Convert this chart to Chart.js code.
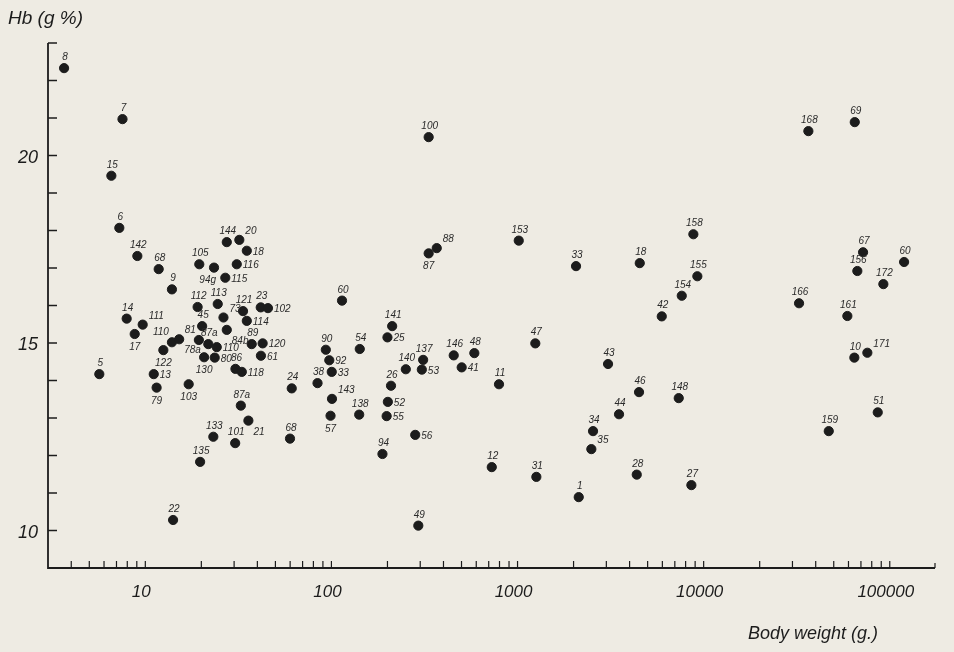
<!DOCTYPE html>
<html lang="en">
<head>
    <meta charset="UTF-8">
    <title>Hb vs Body weight</title>
    <script src="https://cdn.jsdelivr.net/npm/chart.js"></script>
    <style>
        body { margin: 0; background: #eeebe3; }
        canvas { display: block; }
    </style>
</head>
<body>
    <canvas id="hbChart" width="954" height="652"></canvas>

    <script>
        // Animal numbers, body weight (g) and haemoglobin (g %)
        const ids = ['8', '7', '15', '6', '142', '68', '9', '105', '94g', '144', '20', '18', '116', '115',
            '112', '113', '73', '121', '23', '102', '114', '45', '14', '111', '17', '110', '78a', '81', '87a',
            '84b', '110', '89', '120', '61', '122', '130', '80', '86', '118', '5', '13', '79', '103', '133',
            '135', '22', '87a', '21', '101', '68', '24', '38', '90', '92', '33', '143', '57', '54', '138',
            '141', '25', '26', '52', '55', '56', '94', '49', '137', '140', '53', '146', '48', '41', '100',
            '88', '87', '60', '11', '47', '12', '31', '153', '33', '18', '158', '155', '154', '42', '43',
            '46', '148', '44', '34', '35', '28', '27', '1', '168', '69', '67', '60', '156', '172', '166',
            '161', '10', '171', '51', '159'];

        const weights = [3.66, 7.54, 6.57, 7.25, 9.06, 11.8, 13.9, 19.5, 23.4, 27.4, 32.0, 35.1, 31.0, 26.9,
            19.1, 24.5, 26.3, 33.5, 41.7, 45.6, 35.1, 20.2, 7.94, 9.68, 8.77, 13.9, 15.2, 19.4, 21.8,
            27.4, 24.2, 37.3, 42.7, 41.8, 12.5, 20.7, 23.6, 30.5, 33.0, 5.66, 11.1, 11.5, 17.1, 23.2,
            19.7, 14.1, 32.6, 35.8, 30.4, 59.9, 61.2, 84.2, 93.3, 97.4, 100.4, 100.7, 98.9, 142, 141,
            212, 200, 209, 201, 198, 282, 188, 293, 311, 251, 306, 454, 586, 501, 333,
            368, 333, 114, 795, 1246, 727, 1262, 1015, 2062, 4536, 8805, 9250, 7627, 5955, 3064,
            4496, 7347, 3510, 2545, 2492, 4370, 8591, 2132, 36530, 64850, 71860, 119400, 66950, 92380, 32550,
            59170, 64520, 75790, 86170, 47010];

        const hb = [22.33, 20.97, 19.46, 18.07, 17.32, 16.97, 16.43, 17.10, 17.01, 17.69, 17.75, 17.46, 17.10, 16.74,
            15.96, 16.04, 15.68, 15.85, 15.95, 15.93, 15.59, 15.45, 15.65, 15.49, 15.24, 15.02, 15.10, 15.08, 14.97,
            15.35, 14.89, 14.97, 14.99, 14.66, 14.81, 14.62, 14.61, 14.31, 14.23, 14.17, 14.17, 13.81, 13.90, 12.50,
            11.83, 10.28, 13.33, 12.93, 12.33, 12.45, 13.79, 13.93, 14.82, 14.54, 14.23, 13.51, 13.06, 14.84, 13.09,
            15.45, 15.15, 13.86, 13.43, 13.05, 12.55, 12.04, 10.13, 14.55, 14.30, 14.29, 14.67, 14.73, 14.35, 20.49,
            17.53, 17.39, 16.13, 13.90, 14.99, 11.69, 11.43, 17.73, 17.05, 17.13, 17.90, 16.78, 16.26, 15.71, 14.44,
            13.69, 13.53, 13.10, 12.65, 12.17, 11.49, 11.21, 10.89, 20.65, 20.89, 17.42, 17.16, 16.92, 16.57, 16.06,
            15.72, 14.61, 14.74, 13.15, 12.65];

        // Where each number sits relative to its dot
        const idSide = ['a', 'a', 'a', 'a', 'a', 'a', 'a', 'a', 'bl', 'a', 'ar', 'r', 'r', 'r',
            'a', 'a', 'ar', 'a', 'a', 'r', 'r', 'a', 'a', 'ar', 'b', 'al', 'br', 'al', 'a',
            'br', 'r', 'a', 'r', 'r', 'b', 'b', 'r', 'a', 'r', 'a', 'r', 'b', 'b', 'a',
            'a', 'a', 'a', 'br', 'a', 'a', 'a', 'a', 'a', 'r', 'r', 'ar', 'b', 'a', 'a',
            'a', 'r', 'a', 'r', 'r', 'r', 'a', 'a', 'a', 'a', 'r', 'a', 'a', 'r', 'a',
            'ar', 'b', 'a', 'a', 'a', 'a', 'a', 'a', 'a', 'a', 'a', 'a', 'a', 'a', 'a',
            'a', 'a', 'a', 'a', 'ar', 'a', 'a', 'a', 'a', 'a', 'a', 'a', 'a', 'a', 'a',
            'a', 'a', 'ar', 'a', 'a'];

        // Axis ticks
        const yTicks = [10, 11, 12, 13, 14, 15, 16, 17, 18, 19, 20, 21, 22, 23];
        const yTickLabels = [10, 15, 20];
        const xDecades = [1, 10, 100, 1000, 10000, 100000];
        const xTickLabels = [10, 100, 1000, 10000, 100000];

        const ink = '#1c1c1c';
        const face = '"Liberation Sans", "DejaVu Sans", sans-serif';

        // Draws the hand-drawn style axes, inward ticks, titles and the animal numbers
        const paperAxes = {
            id: 'paperAxes',
            afterDatasetsDraw(chart) {
                const ctx = chart.ctx;
                const xs = chart.scales.x;
                const ys = chart.scales.y;
                const area = chart.chartArea;

                ctx.save();
                ctx.strokeStyle = ink;
                ctx.fillStyle = ink;
                ctx.lineWidth = 1.8;

                // axis lines
                ctx.beginPath();
                ctx.moveTo(area.left, area.top);
                ctx.lineTo(area.left, area.bottom);
                ctx.lineTo(area.right, area.bottom);
                ctx.stroke();

                // y ticks pointing inward
                ctx.lineWidth = 1.5;
                yTicks.forEach(v => {
                    const py = ys.getPixelForValue(v);
                    ctx.beginPath();
                    ctx.moveTo(area.left, py);
                    ctx.lineTo(area.left + 9, py);
                    ctx.stroke();
                });

                // x ticks on every 1..9 multiple
                ctx.lineWidth = 1.2;
                xDecades.forEach(d => {
                    for (let m = 1; m <= 9; m++) {
                        const px = xs.getPixelForValue(d * m);
                        if (px <= area.left + 2 || px > area.right) continue;
                        ctx.beginPath();
                        ctx.moveTo(px, area.bottom);
                        ctx.lineTo(px, area.bottom - 7);
                        ctx.stroke();
                    }
                });
                ctx.beginPath();
                ctx.moveTo(area.right, area.bottom);
                ctx.lineTo(area.right, area.bottom - 5);
                ctx.stroke();

                // tick labels
                ctx.font = 'italic 18px ' + face;
                ctx.textAlign = 'right';
                ctx.textBaseline = 'middle';
                yTickLabels.forEach(v => {
                    ctx.fillText(String(v), area.left - 10, ys.getPixelForValue(v) + 2);
                });
                ctx.font = 'italic 17px ' + face;
                ctx.textAlign = 'center';
                ctx.textBaseline = 'top';
                xTickLabels.forEach(v => {
                    ctx.fillText(String(v), xs.getPixelForValue(v) - 4, area.bottom + 16);
                });

                // axis titles
                ctx.font = 'italic 19px ' + face;
                ctx.textAlign = 'left';
                ctx.textBaseline = 'middle';
                ctx.fillText('Hb (g %)', 8, 19);
                ctx.font = 'italic 18px ' + face;
                ctx.fillText('Body weight (g.)', 748, 634);

                // animal numbers next to the dots
                ctx.font = 'italic 10px ' + face;
                ctx.fillStyle = '#2a2a2a';
                const meta = chart.getDatasetMeta(0);
                meta.data.forEach((pt, i) => {
                    const side = idSide[i];
                    let tx = pt.x, ty = pt.y;
                    ctx.textAlign = 'center';
                    ctx.textBaseline = 'alphabetic';
                    if (side === 'a') { ty -= 8; tx += 1; }
                    else if (side === 'ar') { tx += 6; ty -= 6; ctx.textAlign = 'left'; }
                    else if (side === 'al') { tx -= 3; ty -= 7; ctx.textAlign = 'right'; }
                    else if (side === 'r') { tx += 6; ty += 4; ctx.textAlign = 'left'; }
                    else if (side === 'b') { ty += 16; }
                    else if (side === 'br') { tx += 5; ty += 14; ctx.textAlign = 'left'; }
                    else if (side === 'bl') { tx += 2; ty += 15; ctx.textAlign = 'right'; }
                    ctx.fillText(ids[i], tx, ty);
                });
                ctx.restore();
            }
        };

        const ctx = document.getElementById('hbChart').getContext('2d');

        const chart = new Chart(ctx, {
            type: 'scatter',
            data: {
                datasets: [{
                    label: 'Hb',
                    data: weights.map((w, i) => ({ x: w, y: hb[i] })),
                    backgroundColor: ink,
                    borderColor: ink,
                    pointRadius: 4.6,
                    pointHoverRadius: 4.6,
                    clip: false
                }]
            },
            options: {
                responsive: false,
                animation: false,
                layout: {
                    padding: { left: 48, top: 43, right: 19, bottom: 84 }
                },
                plugins: {
                    legend: { display: false },
                    tooltip: { enabled: false }
                },
                scales: {
                    x: { type: 'logarithmic', min: 3, max: 175000, display: false },
                    y: { type: 'linear', min: 9, max: 23, display: false }
                }
            },
            plugins: [paperAxes]
        });
    </script>
</body>
</html>
